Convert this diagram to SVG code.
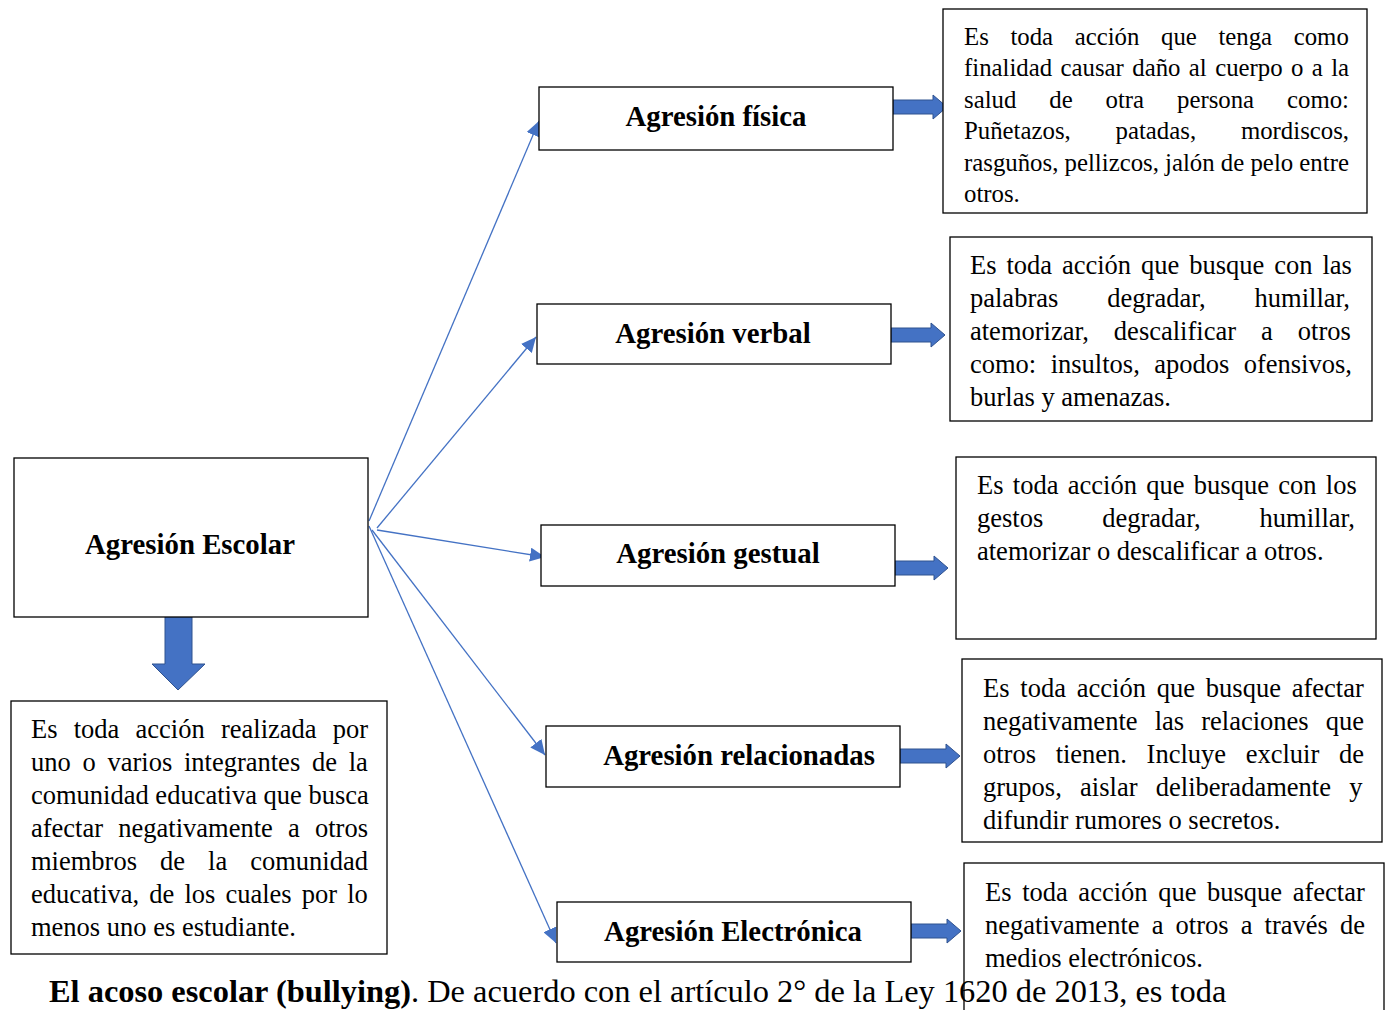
<svg xmlns="http://www.w3.org/2000/svg" width="1387" height="1010" viewBox="0 0 1387 1010">
<style>
.box{fill:#fff;stroke:#000;stroke-width:1.3}
.t{font-family:"Liberation Serif","Times New Roman",serif;font-size:26.5px;fill:#000}
.t1{font-family:"Liberation Serif","Times New Roman",serif;font-size:24.8px;fill:#000}
.h{font-family:"Liberation Serif","Times New Roman",serif;font-size:28.8px;font-weight:bold;fill:#000;text-anchor:middle}
.con{stroke:#4472C4;stroke-width:1.3;fill:none;marker-end:url(#ah)}
.blk{fill:#4472C4;stroke:#2F528F;stroke-width:1}
.foot{font-family:"Liberation Serif","Times New Roman",serif;font-size:32.4px;fill:#000}
</style>
<defs>
<marker id="ah" markerUnits="userSpaceOnUse" markerWidth="16" markerHeight="14" refX="15" refY="7" orient="auto">
<path d="M0,0 L15,7 L0,14 z" fill="#4472C4"/>
</marker>
</defs>

<g id="connectors">
<line class="con" x1="369" y1="521" x2="539" y2="121"/>
<line class="con" x1="377" y1="528" x2="536" y2="337"/>
<line class="con" x1="377" y1="530" x2="545" y2="557"/>
<line class="con" x1="372" y1="530" x2="545" y2="755"/>
<line class="con" x1="369" y1="526" x2="556" y2="943"/>
<path class="blk" d="M165,616 L192,616 L192,664 L205,664 L178,690 L152,664 L165,664 z"/>
<path class="blk" d="M893,100 L933,100 L933,95 L947,107 L933,119 L933,114 L893,114 z"/>
<path class="blk" d="M891,328 L931,328 L931,323 L945,335 L931,347 L931,342 L891,342 z"/>
<path class="blk" d="M895,561 L934,561 L934,556 L948,568 L934,580 L934,575 L895,575 z"/>
<path class="blk" d="M900,749 L946,749 L946,744 L960,756 L946,768 L946,763 L900,763 z"/>
<path class="blk" d="M911,924 L947,924 L947,919 L961,931 L947,943 L947,938 L911,938 z"/>
</g>

<g id="escolar">
<rect class="box" x="14" y="458" width="354" height="159"/>
<text class="h" x="190" y="554">Agresión Escolar</text>
</g>

<g id="escolar-desc">
<rect class="box" x="11" y="701" width="376" height="253"/>
<text class="t" x="31" y="738" word-spacing="9.6">Es toda acción realizada por</text>
<text class="t" x="31" y="771" word-spacing="5.1">uno o varios integrantes de la</text>
<text class="t" x="31" y="804">comunidad educativa que busca</text>
<text class="t" x="31" y="837" word-spacing="8.6">afectar negativamente a otros</text>
<text class="t" x="31" y="870" word-spacing="16.4">miembros de la comunidad</text>
<text class="t" x="31" y="903" word-spacing="3.5">educativa, de los cuales por lo</text>
<text class="t" x="31" y="936">menos uno es estudiante.</text>
</g>

<g id="fisica">
<rect class="box" x="539" y="87" width="354" height="63"/>
<text class="h" x="716" y="126">Agresión física</text>
</g>
<g id="verbal">
<rect class="box" x="537" y="304" width="354" height="60"/>
<text class="h" x="713" y="343">Agresión verbal</text>
</g>
<g id="gestual">
<rect class="box" x="541" y="525" width="354" height="61"/>
<text class="h" x="718" y="563">Agresión gestual</text>
</g>
<g id="relacionadas">
<rect class="box" x="546" y="726" width="354" height="61"/>
<text class="h" x="739" y="765">Agresión relacionadas</text>
</g>
<g id="electronica">
<rect class="box" x="557" y="902" width="354" height="60"/>
<text class="h" x="733" y="941">Agresión Electrónica</text>
</g>

<g id="fisica-desc">
<rect class="box" x="943" y="9" width="424" height="204"/>
<text class="t1" x="964" y="45" word-spacing="15.4">Es toda acción que tenga como</text>
<text class="t1" x="964" y="76.4" word-spacing="2.2">finalidad causar daño al cuerpo o a la</text>
<text class="t1" x="964" y="107.8" word-spacing="26.7">salud de otra persona como:</text>
<text class="t1" x="964" y="139.2" word-spacing="38.6">Puñetazos, patadas, mordiscos,</text>
<text class="t1" x="964" y="170.6">rasguños, pellizcos, jalón de pelo entre</text>
<text class="t1" x="964" y="202">otros.</text>
</g>

<g id="verbal-desc">
<rect class="box" x="950" y="237" width="422" height="184"/>
<text class="t" x="970" y="274" word-spacing="3.3">Es toda acción que busque con las</text>
<text class="t" x="970" y="307" word-spacing="42.4">palabras degradar, humillar,</text>
<text class="t" x="970" y="340" word-spacing="18.4">atemorizar, descalificar a otros</text>
<text class="t" x="970" y="373" word-spacing="7.8">como: insultos, apodos ofensivos,</text>
<text class="t" x="970" y="406">burlas y amenazas.</text>
</g>

<g id="gestual-desc">
<rect class="box" x="956" y="457" width="420" height="182"/>
<text class="t" x="977" y="494" word-spacing="2.7">Es toda acción que busque con los</text>
<text class="t" x="977" y="527" word-spacing="52.4">gestos degradar, humillar,</text>
<text class="t" x="977" y="560">atemorizar o descalificar a otros.</text>
</g>

<g id="relacionadas-desc">
<rect class="box" x="962" y="659" width="420" height="183"/>
<text class="t" x="983" y="697" word-spacing="4.2">Es toda acción que busque afectar</text>
<text class="t" x="983" y="730" word-spacing="10.5">negativamente las relaciones que</text>
<text class="t" x="983" y="763" word-spacing="13">otros tienen. Incluye excluir de</text>
<text class="t" x="983" y="796" word-spacing="11.7">grupos, aislar deliberadamente y</text>
<text class="t" x="983" y="829">difundir rumores o secretos.</text>
</g>

<g id="electronica-desc">
<rect class="box" x="964" y="863" width="420" height="160"/>
<text class="t" x="985" y="901" word-spacing="4">Es toda acción que busque afectar</text>
<text class="t" x="985" y="934" word-spacing="5.5">negativamente a otros a través de</text>
<text class="t" x="985" y="967">medios electrónicos.</text>
</g>

<text class="foot" x="49" y="1002"><tspan font-weight="bold">El acoso escolar (bullying)</tspan>. De acuerdo con el artículo 2° de la Ley 1620 de 2013, es toda</text>
</svg>
